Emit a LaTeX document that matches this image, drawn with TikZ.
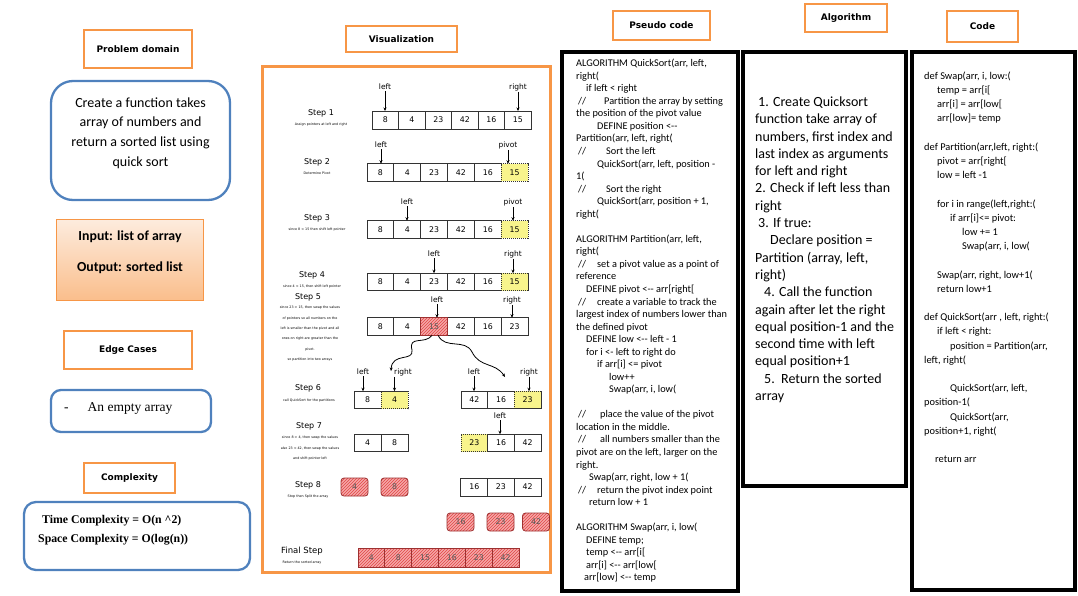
\documentclass[tikz,border=0pt]{standalone}
\usepackage{fontspec}
\setmainfont{Carlito}
\newfontfamily\vizfont{DejaVu Sans}
\newfontfamily\timesfont{Liberation Serif}
\usetikzlibrary{positioning, arrows.meta, patterns}
\definecolor{hdrorange}{RGB}{247,150,70}
\definecolor{boxblue}{RGB}{79,129,189}
\definecolor{peachtop}{RGB}{253,236,222}
\definecolor{peachbot}{RGB}{250,190,140}
\definecolor{cellyellow}{RGB}{248,244,140}
\definecolor{cellred}{RGB}{225,70,70}
\definecolor{cellredbg}{RGB}{245,168,168}
\newcommand{\cmnt}[1]{\hspace*{2pt}//\hspace*{#1}}
\newcommand{\tabin}[1]{\hspace*{#1}}

\begin{document}
\begin{tikzpicture}[x=1pt, y=-1pt,
  hdr/.style={draw=hdrorange, line width=2.8pt, fill=white, inner sep=0pt,
              font=\vizfont\bfseries\fontsize{9}{10}\selectfont},
  bluebox/.style={draw=boxblue, line width=2.3pt, inner sep=0pt},
  frame/.style={draw=black, line width=3.5pt, inner sep=0pt},
  cell/.style={draw=black!80, line width=0.8pt, minimum width=26.8pt, minimum height=17.5pt,
               inner sep=0pt, outer sep=0pt, font=\vizfont\fontsize{7.8}{8}\selectfont},
  ycell/.style={cell, fill=cellyellow, dash pattern=on 1.2pt off 0.8pt},
  rcell/.style={cell, draw=cellred!70!black, text=black!65, preaction={fill=cellredbg},
                pattern=north east lines, pattern color=cellred},
  rbox/.style={rcell, rounded corners=3pt, minimum width=27pt, minimum height=18pt},
  ptrl/.style={font=\vizfont\fontsize{7.5}{9}\selectfont, inner sep=0pt},
  ptr/.style={-{Stealth[length=3.5pt, width=3pt]}, line width=0.7pt},
  stepl/.style={font=\vizfont\fontsize{8}{9}\selectfont, inner sep=0pt},
  stepd/.style={font=\vizfont\fontsize{3.3}{10.4}\selectfont, align=center, inner sep=0pt},
  listing/.style={anchor=north west, align=left, inner sep=0pt}]

  \useasboundingbox (0,0) rectangle (1078,595);

  %% Problem domain column
  \node[hdr, minimum width=108pt, minimum height=38pt] (pdhdr) at (138,49) {Problem domain};
  \node[bluebox, rounded corners=22pt, minimum width=179pt, minimum height=119pt] (pdbox) at (140.5,140.5) {};
  \node[font=\fontsize{14}{19.6}\selectfont, align=center] (pdtext) at (140.5,133)
    {Create a function takes\\array of numbers and\\return a sorted list using\\quick sort};
  \node[draw=hdrorange, line width=0.6pt, top color=peachtop, bottom color=peachbot,
        minimum width=147pt, minimum height=81pt] (iobox) at (129.5,259.5) {};
  \node[font=\bfseries\fontsize{13.8}{15}\selectfont] (intext) at (130,237) {Input: list of array};
  \node[font=\bfseries\fontsize{13.8}{15}\selectfont] (outtext) at (130,268) {Output: sorted list};

  \node[hdr, minimum width=128pt, minimum height=38pt] (edhdr) at (128,350) {Edge Cases};
  \node[bluebox, rounded corners=10pt, minimum width=160pt, minimum height=42pt] (edbox) at (131,411) {};
  \node[font=\timesfont\fontsize{13.5}{15}\selectfont, anchor=west, inner sep=0pt] (edtext) at (64,408)
    {-\hspace{19pt}An empty array};

  \node[hdr, minimum width=91pt, minimum height=30pt] (cxhdr) at (129.5,478) {Complexity};
  \node[bluebox, rounded corners=12pt, minimum width=226pt, minimum height=68pt] (cxbox) at (137,536) {};
  \node[font=\timesfont\bfseries\fontsize{11.8}{19}\selectfont, align=left, anchor=west, inner sep=0pt] (cxtext) at (38,530.5)
    {\hspace*{4pt}Time Complexity = O(n \textasciicircum 2)\\Space Complexity = O(log(n))};

  %% Visualization
  \node[hdr, minimum width=111pt, minimum height=26pt] (vzhdr) at (401.5,39) {Visualization};
  \node[draw=hdrorange, line width=3pt, minimum width=288pt, minimum height=506pt, inner sep=0pt] (vzframe) at (406,319) {};

  \node[stepl] (st1) at (321,113) {Step 1};
  \node[stepd] (sd1) at (321,125) {Assign pointers at left and right};
  \node[stepl] (st2) at (317,162) {Step 2};
  \node[stepd] (sd2) at (317,173) {Determine Pivot};
  \node[stepl] (st3) at (317,218) {Step 3};
  \node[stepd] (sd3) at (317,230) {since 8 < 15 then shift left pointer};
  \node[stepl] (st4) at (312,275) {Step 4};
  \node[stepd] (sd4) at (312,287) {since 4 < 15, then shift left pointer};
  \node[stepl] (st5) at (308,297) {Step 5};
  \node[stepd, anchor=north] (sd5) at (310,306) {since 23 > 15, then swap the values\\of pointers so all numbers on the\\left is smaller than the pivot and all\\ones on right are greater than the\\pivot.\\so partition into two arrays};
  \node[stepl] (st6) at (308,388) {Step 6};
  \node[stepd] (sd6) at (309,401) {call QuickSort for the partitions};
  \node[stepl] (st7) at (309,426) {Step 7};
  \node[stepd, anchor=north] (sd7) at (310,436) {since 8 > 4, then swap the values\\also 23 < 42, then swap the values\\and shift pointer left};
  \node[stepl] (st8) at (308,485) {Step 8};
  \node[stepd] (sd8) at (308,497) {Stop then Split the array};
  \node[stepl, font=\vizfont\fontsize{8.5}{9}\selectfont] (stf) at (302,551) {Final Step};
  \node[stepd] (sdf) at (302,563) {Return the sorted array};

  %% arrays
  \foreach \v [count=\i] in {8,4,23,42,16,15}
    \node[cell, minimum width=26.5pt, minimum height=18pt] (s1-\i) at (358.75+26.5*\i,120) {\v};
  \foreach \v [count=\i] in {8,4,23,42,16}
    \node[cell] (s2-\i) at (353.6+26.83*\i,172.5) {\v};
  \node[ycell] (s2-6) at (514.6,172.5) {15};
  \foreach \v [count=\i] in {8,4,23,42,16}
    \node[cell] (s3-\i) at (353.6+26.83*\i,229.5) {\v};
  \node[ycell] (s3-6) at (514.6,229.5) {15};
  \foreach \v [count=\i] in {8,4,23,42,16}
    \node[cell] (s4-\i) at (353.6+26.83*\i,282) {\v};
  \node[ycell] (s4-6) at (514.6,282) {15};
  \foreach \v/\i in {8/1,4/2,42/4,16/5,23/6}
    \node[cell] (s5-\i) at (353.6+26.83*\i,326.5) {\v};
  \node[rcell] (s5-3) at (434.1,326.5) {15};

  \node[cell, minimum width=27pt] (s6l-1) at (367.5,400) {8};
  \node[ycell, minimum width=27pt] (s6l-2) at (394.5,400) {4};
  \node[cell] (s6r-1) at (474.3,400) {42};
  \node[cell] (s6r-2) at (501,400) {16};
  \node[ycell] (s6r-3) at (527.7,400) {23};

  \node[cell, minimum width=27pt] (s7l-1) at (367.5,443) {4};
  \node[cell, minimum width=27pt] (s7l-2) at (394.5,443) {8};
  \node[ycell] (s7r-1) at (474.3,443) {23};
  \node[cell] (s7r-2) at (501,443) {16};
  \node[cell] (s7r-3) at (527.7,443) {42};

  \node[rbox] (s8l-1) at (354.5,487) {4};
  \node[rbox] (s8l-2) at (394.5,487) {8};
  \foreach \v [count=\i] in {16,23,42}
    \node[cell, minimum height=18pt] (s8r-\i) at (447.6+26.67*\i,487) {\v};
  \foreach \v/\x in {16/460.5,23/500.5,42/536}
    \node[rbox] (s9-\v) at (\x,522) {\v};
  \foreach \v [count=\i] in {4,8,15,16,23,42}
    \node[rcell, minimum height=19pt] (sf-\i) at (344.6+26.83*\i,557.5) {\v};

  %% pointers
  \foreach \n/\t/\x/\y/\c in {p1l/left/385/87/s1-1, p1r/right/518/87/s1-6,
      p2l/left/381/145/s2-1, p2r/pivot/508/145/s2-6,
      p3l/left/407/202/s3-2, p3r/pivot/513/202/s3-6,
      p4l/left/434/254/s4-3, p4r/right/513/254/s4-6,
      p5l/left/437/300/s5-3, p5r/right/512/300/s5-6,
      p6a/left/363/372/s6l-1, p6c/left/474/372/s6r-1, p6d/right/529/372/s6r-3,
      p7l/left/500/416/s7r-2}
  {
    \node[ptrl] (\n) at (\x,\y) {\t};
    \draw[ptr] ([yshift=-1pt]\n.south) -- (\n.south |- \c.north);
  }
  \node[ptrl] (p6b) at (403,372) {right};
  \draw[ptr] ([yshift=-1pt]p6b.south -| s6l-2) -- (s6l-2.north);

  %% partition arrows
  \coordinate (pl) at (391,371);
  \coordinate (pr) at (505,377);
  \draw[ptr, line width=0.8pt] ([xshift=-2pt]s5-3.south) .. controls (425,345) and (408,335) .. (412,350)
    .. controls (414,362) and (392,352) .. (pl);
  \draw[ptr, line width=0.8pt] ([xshift=4pt]s5-3.south) .. controls (445,350) and (465,338) .. (472,352)
    .. controls (480,368) and (495,362) .. (pr);

  %% Pseudo code
  \node[hdr, minimum width=97pt, minimum height=29pt] (pchdr) at (661.5,25.5) {Pseudo code};
  \node[frame, minimum width=176pt, minimum height=539pt] (pcframe) at (650,321.5) {};
  \node[listing, font=\fontsize{10.3}{12.54}\selectfont] (pctext) at (576,59) {%
ALGORITHM QuickSort(arr, left,\\
right(\\
\tabin{10pt}if left < right\\
\cmnt{18pt}Partition the array by setting\\
the position of the pivot value\\
\tabin{21pt}DEFINE position <-{}-\\
Partition(arr, left, right(\\
\cmnt{20pt}Sort the left\\
\tabin{21pt}QuickSort(arr, left, position -\\
1(\\
\cmnt{20pt}Sort the right\\
\tabin{21pt}QuickSort(arr, position + 1,\\
right(\\
\mbox{}\\
ALGORITHM Partition(arr, left,\\
right(\\
\cmnt{11pt}set a pivot value as a point of\\
reference\\
\tabin{10pt}DEFINE pivot <-{}- arr[right[\\
\cmnt{11pt}create a variable to track the\\
largest index of numbers lower than\\
the defined pivot\\
\tabin{10pt}DEFINE low <-{}- left - 1\\
\tabin{10pt}for i <- left to right do\\
\tabin{21pt}if arr[i] <= pivot\\
\tabin{33pt}low++\\
\tabin{33pt}Swap(arr, i, low(\\
\mbox{}\\
\cmnt{14pt}place the value of the pivot\\
location in the middle.\\
\cmnt{14pt}all numbers smaller than the\\
pivot are on the left, larger on the\\
right.\\
\tabin{13pt}Swap(arr, right, low + 1(\\
\cmnt{11pt}return the pivot index point\\
\tabin{13pt}return low + 1\\
\mbox{}\\
ALGORITHM Swap(arr, i, low(\\
\tabin{10pt}DEFINE temp;\\
\tabin{10pt}temp <-{}- arr[i[\\
\tabin{10pt}arr[i] <-{}- arr[low[\\
\tabin{8pt}arr[low] <-{}- temp};

  %% Algorithm
  \node[hdr, minimum width=82pt, minimum height=28pt] (alhdr) at (846,18) {Algorithm};
  \node[frame, minimum width=163pt, minimum height=434pt] (alframe) at (824.5,269) {};
  \node[listing, font=\fontsize{14}{17.3}\selectfont] (altext) at (755,96.5) {%
\tabin{3pt}1. Create Quicksort\\
function take array of\\
numbers, first index and\\
last index as arguments\\
for left and right\\
2. Check if left less than\\
right\\
\tabin{3pt}3. If true:\\
\tabin{15pt}Declare position =\\
Partition (array, left,\\
right)\\
\tabin{9pt}4. Call the function\\
again after let the right\\
equal position-1 and the\\
second time with left\\
equal position+1\\
\tabin{9pt}5.\ \ Return the sorted\\
array};

  %% Code
  \node[hdr, minimum width=71pt, minimum height=31pt] (cdhdr) at (982.5,26.5) {Code};
  \node[frame, minimum width=163pt, minimum height=538pt] (cdframe) at (993.5,321) {};
  \node[listing, font=\fontsize{10.4}{14.2}\selectfont] (cdtext) at (924,71.5) {%
def Swap(arr, i, low:(\\
\tabin{13pt}temp = arr[i[\\
\tabin{13pt}arr[i] = arr[low[\\
\tabin{13pt}arr[low]= temp\\
\mbox{}\\
def Partition(arr,left, right:(\\
\tabin{13pt}pivot = arr[right[\\
\tabin{13pt}low = left -1\\
\mbox{}\\
\tabin{13pt}for i in range(left,right:(\\
\tabin{26pt}if arr[i]<= pivot:\\
\tabin{38pt}low += 1\\
\tabin{38pt}Swap(arr, i, low(\\
\mbox{}\\
\tabin{13pt}Swap(arr, right, low+1(\\
\tabin{13pt}return low+1\\
\mbox{}\\
def QuickSort(arr , left, right:(\\
\tabin{13pt}if left < right:\\
\tabin{26pt}position = Partition(arr,\\
left, right(\\
\mbox{}\\
\tabin{26pt}QuickSort(arr, left,\\
position-1(\\
\tabin{26pt}QuickSort(arr,\\
position+1, right(\\
\mbox{}\\
\tabin{11pt}return arr};
\end{tikzpicture}
\end{document}
